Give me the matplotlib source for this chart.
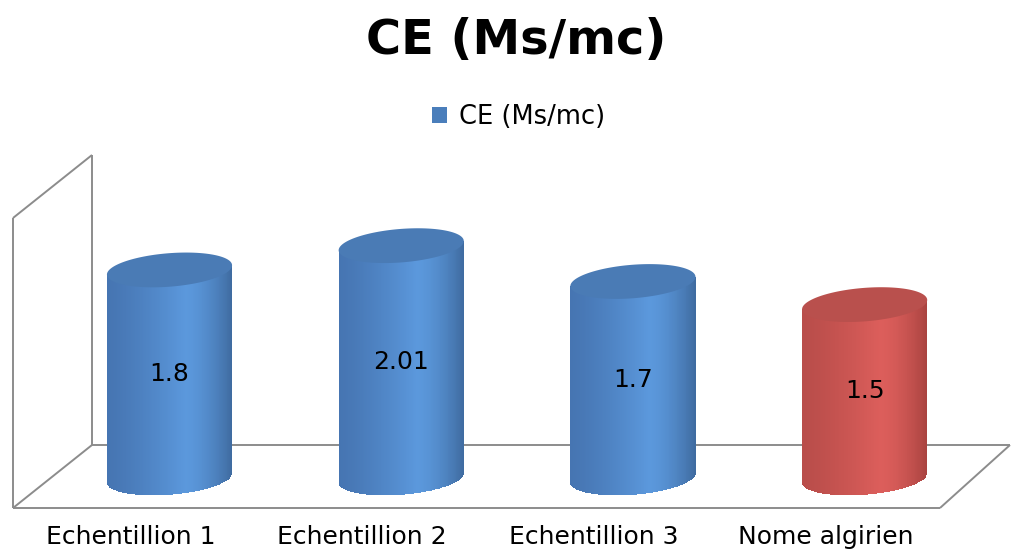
"""
plot.py -- CE (Ms/mc) per sample, drawn as Excel-style 3D cylinders.
"""

import numpy as np
import matplotlib
matplotlib.use("Agg")
import matplotlib.pyplot as plt
from matplotlib.colors import to_rgb
from matplotlib.patches import Patch, Polygon

categories = ["Echentillion 1", "Echentillion 2", "Echentillion 3", "Nome algirien"]
values = [1.8, 2.01, 1.7, 1.5]
series_name = "CE (Ms/mc)"

# body shading: (left edge, highlight, right edge) and top cap colour
palettes = {
    "blue": ("#4675b2", "#5b98dc", "#3f6ba0", "#4a7bb5"),
    "red": ("#b94d4a", "#dc5e5b", "#a94340", "#b9504d"),
}
bar_palette = ["blue", "blue", "blue", "red"]

BAR_W = 0.54      # cylinder diameter in category units
CAP_B = 0.145     # ellipse half height in value units
TILT = 0.04       # rise of the ellipse from centre to right edge
N_STRIPS = 140
LABEL_SHIFT = -0.168   # category labels sit on the front edge of the floor

FRAME = "#8c8c8c"
FONT = 18


def mix(c1, c2, t):
    a, b = np.array(to_rgb(c1)), np.array(to_rgb(c2))
    return tuple(a + (b - a) * t)


def strip_color(u, pal):
    """u in [-1, 1] across the cylinder; brightest a bit right of centre."""
    left, hi, right = pal[:3]
    peak = 0.25
    if u <= peak:
        t = (u + 1) / (peak + 1)
        return mix(left, hi, t ** 1.3)
    t = (u - peak) / (1 - peak)
    return mix(hi, right, t ** 1.6)


def draw_cylinder(ax, x0, value, pal):
    edges = np.linspace(-1, 1, N_STRIPS + 1)
    mids = (edges[:-1] + edges[1:]) / 2
    half = BAR_W / 2
    bottoms = -CAP_B * np.sqrt(1 - mids ** 2) + TILT * mids
    tops = value + TILT * mids
    ax.bar(x0 + mids * half, tops - bottoms, bottom=bottoms,
           width=BAR_W / N_STRIPS * 1.3,
           color=[strip_color(u, pal) for u in mids],
           linewidth=0, zorder=3)
    t = np.linspace(0, 2 * np.pi, 200)
    cap = np.column_stack([x0 + half * np.cos(t),
                           value + CAP_B * np.sin(t) + TILT * np.cos(t)])
    ax.add_patch(Polygon(cap, closed=True, facecolor=pal[3],
                         edgecolor="none", zorder=4))


def draw_frame(ax):
    """Back wall and floor of the 3D box, in axes fractions."""
    W, H = 1012.0, 549.0
    segs = [
        [(13, 218), (13, 508)],
        [(92, 155), (92, 445)],
        [(13, 218), (92, 155)],
        [(13, 508), (92, 445)],
        [(92, 445), (1010, 445)],
        [(13, 508), (940, 508)],
        [(940, 508), (1010, 445)],
    ]
    for seg in segs:
        xs = [p[0] / W for p in seg]
        ys = [1 - p[1] / H for p in seg]
        ax.plot(xs, ys, color=FRAME, linewidth=1.4,
                transform=ax.transAxes, zorder=1, solid_capstyle="butt")


def main():
    fig = plt.figure(figsize=(10.12, 5.49), dpi=100)
    ax = fig.add_axes([0, 0, 1, 1])
    ax.set_xlim(-0.7315, 3.636)
    ax.set_ylim(-0.614, 4.135)
    ax.axis("off")

    draw_frame(ax)

    x = np.arange(len(categories))
    for xi, v, key in zip(x, values, bar_palette):
        draw_cylinder(ax, xi, v, palettes[key])
        ax.text(xi, v / 2, f"{v:g}", ha="center", va="center",
                fontsize=FONT, color="black", zorder=5)

    for xi, cat in zip(x, categories):
        ax.text(xi + LABEL_SHIFT, 0.022, cat, ha="center", va="center",
                fontsize=FONT, transform=ax.get_xaxis_transform())

    fig.text(0.51, 0.927, series_name, ha="center", va="center",
             fontsize=34.5, fontweight="bold")

    handle = Patch(facecolor="#4a7ebb", edgecolor="none")
    ax.legend([handle], [series_name], loc="center",
              bbox_to_anchor=(0.512, 0.787), frameon=False,
              fontsize=18.5, handlelength=0.6, handleheight=0.6,
              handletextpad=0.45)

    fig.savefig("out.png", dpi=100)
    plt.close(fig)


if __name__ == "__main__":
    main()
